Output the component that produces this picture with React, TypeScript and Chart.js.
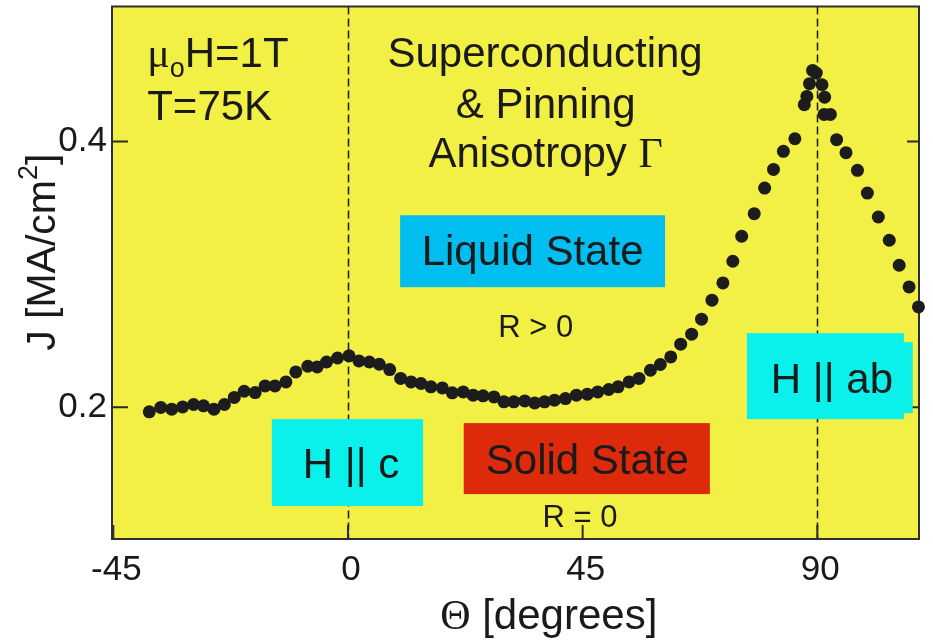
import React, { useEffect, useRef } from "react";
import { Chart, registerables } from "chart.js";

Chart.register(...registerables);

// ---- data ----
const thetaDeg = [
  -38.1, -35.9, -33.8, -31.7, -29.6, -27.7, -25.7, -23.7, -21.8, -19.9,
  -17.8, -15.9, -14.0, -11.9, -10.0, -7.7, -5.9, -4.1, -2.0, 0.2,
  2.1, 4.1, 6.0, 8.0, 10.1, 12.1, 14.0, 15.9, 18.1, 20.0,
  22.1, 24.0, 25.9, 28.0, 29.9, 31.8, 33.9, 35.8, 37.7, 39.6,
  41.7, 43.8, 45.9, 47.9, 50.0, 51.8, 53.9, 55.8, 58.0, 59.9,
  61.9, 63.8, 65.9, 67.8, 69.8, 71.9, 73.8, 75.5, 77.9, 79.9,
  81.6, 83.5, 85.7, 87.5, 88.0, 88.5, 89.1, 89.8, 90.9, 91.4,
  91.3, 92.5, 93.7, 95.5, 97.7, 99.6, 101.7, 103.8, 105.7, 107.6, 109.4,
];

const jcValues = [
  0.1965, 0.1998, 0.1985, 0.2002, 0.202, 0.201, 0.1985, 0.202, 0.2073, 0.212,
  0.211, 0.216, 0.216, 0.219, 0.2265, 0.2308, 0.2303, 0.234, 0.237, 0.2386,
  0.2348, 0.234, 0.2323, 0.2283, 0.2216, 0.219, 0.2178, 0.2153, 0.2145, 0.2108,
  0.2115, 0.209, 0.2085, 0.2077, 0.204, 0.204, 0.2047, 0.2032, 0.204, 0.2053,
  0.2065, 0.209, 0.2098, 0.2115, 0.2133, 0.2153, 0.219, 0.2216, 0.2278, 0.2321,
  0.2378, 0.2474, 0.2549, 0.2662, 0.2805, 0.2935, 0.3098, 0.3286, 0.3456, 0.3649,
  0.3789, 0.3925, 0.402, 0.4276, 0.4338, 0.4434, 0.4534, 0.4514, 0.4426, 0.4333,
  0.4203, 0.4203, 0.4013, 0.3915, 0.3782, 0.3611, 0.3431, 0.3256, 0.3068, 0.2905, 0.2754,
];

const xTickValues = [-45, 0, 45, 90];
const yTickValues = [0.2, 0.4];
const guideAngles = [0, 90];

const X_MIN = -45.25;
const X_MAX = 109.5;
const Y_MIN = 0.1008;
const Y_MAX = 0.5015;

const SANS = '"Liberation Sans", Arial, Helvetica, sans-serif';
const SERIF = '"Liberation Serif", "Times New Roman", serif';
const INK = "#1a1a1a";
const YELLOW = "#F2EF45";

// annotation boxes, in data coordinates
const stateBoxes = [
  { x0: 10.0, x1: 60.8, y0: 0.2903, y1: 0.3444, color: "#00BEF0" },
  { x0: -14.6, x1: 14.4, y0: 0.1256, y1: 0.191, color: "#0AF0EA" },
  { x0: 22.2, x1: 69.4, y0: 0.1346, y1: 0.188, color: "#DC2A0A" },
  { x0: 76.5, x1: 106.6, y0: 0.191, y1: 0.2557, color: "#0AF0EA" },
  { x0: 106.5, x1: 108.3, y0: 0.1955, y1: 0.2489, color: "#0AF0EA" },
];

type Run = { t: string; f: string; s: number; dy?: number };
type Note = { x: number; y: number; align: "left" | "center"; runs: Run[] };

const notes: Note[] = [
  { x: -38.5, y: 0.4556, align: "left", runs: [ { t: "\u03bc", f: SERIF, s: 42 }, { t: "o", f: SANS, s: 27, dy: 10 }, { t: "H=1T", f: SANS, s: 42 } ] },
  { x: -38.5, y: 0.4163, align: "left", runs: [{ t: "T=75K", f: SANS, s: 42 }] },
  { x: 37.8, y: 0.4556, align: "center", runs: [{ t: "Superconducting", f: SANS, s: 42 }] },
  { x: 37.9, y: 0.4173, align: "center", runs: [{ t: "& Pinning", f: SANS, s: 42 }] },
  { x: 37.9, y: 0.3805, align: "center", runs: [ { t: "Anisotropy ", f: SANS, s: 42 }, { t: "\u0393", f: SERIF, s: 42 } ] },
  { x: 35.4, y: 0.3068, align: "center", runs: [{ t: "Liquid State", f: SANS, s: 42 }] },
  { x: 36.0, y: 0.2527, align: "center", runs: [{ t: "R > 0", f: SANS, s: 31 }] },
  { x: 0.6, y: 0.1467, align: "center", runs: [{ t: "H || c", f: SANS, s: 42 }] },
  { x: 45.9, y: 0.1497, align: "center", runs: [{ t: "Solid State", f: SANS, s: 42 }] },
  { x: 44.5, y: 0.1098, align: "center", runs: [{ t: "R = 0", f: SANS, s: 31 }] },
  { x: 92.8, y: 0.2108, align: "center", runs: [{ t: "H || ab", f: SANS, s: 42 }] },
];

const xTitleRuns: Run[] = [ { t: "\u0398", f: SERIF, s: 42 }, { t: " [degrees]", f: SANS, s: 42 } ];
const yTitleRuns: Run[] = [ { t: "J [MA/cm", f: SANS, s: 41 }, { t: "2", f: SANS, s: 27, dy: -18 }, { t: "]", f: SANS, s: 41 } ];

function drawRuns(ctx: CanvasRenderingContext2D, runs: Run[], x: number, y: number, align: string) {
  let total = 0;
  const widths = runs.map((r) => {
    ctx.font = `${r.s}px ${r.f}`;
    const w = ctx.measureText(r.t).width;
    total += w;
    return w;
  });
  let cx = align === "center" ? x - total / 2 : x;
  ctx.textAlign = "left";
  ctx.textBaseline = "alphabetic";
  runs.forEach((r, i) => {
    ctx.font = `${r.s}px ${r.f}`;
    ctx.fillText(r.t, cx, y + (r.dy || 0));
    cx += widths[i];
  });
}

const decorPlugin = {
  id: "decor",
  beforeDatasetsDraw(chart: any) {
    const { ctx, chartArea } = chart;
    const { left, right, top, bottom } = chartArea;
    const xs = chart.scales.x;
    const ys = chart.scales.y;
    ctx.save();
    ctx.fillStyle = YELLOW;
    ctx.fillRect(left, top, right - left, bottom - top);

    // dashed guides
    ctx.strokeStyle = INK;
    ctx.lineWidth = 1.5;
    ctx.setLineDash([8, 4]);
    guideAngles.forEach((a) => {
      const px = Math.round(xs.getPixelForValue(a)) + 0.5;
      ctx.beginPath();
      ctx.moveTo(px, top);
      ctx.lineTo(px, bottom);
      ctx.stroke();
    });
    ctx.setLineDash([]);

    // inward ticks
    ctx.strokeStyle = "#2a2a2a";
    ctx.lineWidth = 2;
    yTickValues.forEach((v) => {
      const py = ys.getPixelForValue(v);
      ctx.beginPath();
      ctx.moveTo(left, py);
      ctx.lineTo(left + 16, py);
      ctx.moveTo(right, py);
      ctx.lineTo(right - 12, py);
      ctx.stroke();
    });
    xTickValues.forEach((v) => {
      const px = xs.getPixelForValue(v);
      ctx.beginPath();
      ctx.moveTo(px, bottom);
      ctx.lineTo(px, bottom - 14);
      ctx.stroke();
    });

    // annotation boxes
    stateBoxes.forEach((b) => {
      const x0 = xs.getPixelForValue(b.x0);
      const x1 = xs.getPixelForValue(b.x1);
      const y0 = ys.getPixelForValue(b.y0);
      const y1 = ys.getPixelForValue(b.y1);
      ctx.fillStyle = b.color;
      ctx.fillRect(x0, y1, x1 - x0, y0 - y1);
    });

    // frame
    ctx.strokeStyle = "#2e2e2e";
    ctx.lineWidth = 2;
    ctx.strokeRect(left, top, right - left, bottom - top);
    ctx.restore();
  },
  afterDatasetsDraw(chart: any) {
    const { ctx, chartArea } = chart;
    const xs = chart.scales.x;
    const ys = chart.scales.y;
    ctx.save();
    ctx.fillStyle = INK;
    notes.forEach((n) => {
      drawRuns(ctx, n.runs, xs.getPixelForValue(n.x), ys.getPixelForValue(n.y), n.align);
    });
    // axis titles
    drawRuns(ctx, xTitleRuns, xs.getPixelForValue(38.5), chartArea.bottom + 90, "center");
    ctx.translate(chartArea.left - 57, ys.getPixelForValue(0.3166));
    ctx.rotate(-Math.PI / 2);
    drawRuns(ctx, yTitleRuns, 0, 0, "center");
    ctx.restore();
  },
};

function zeroPadding(s: any) {
  s.paddingTop = 0;
  s.paddingBottom = 0;
  s.paddingLeft = 0;
  s.paddingRight = 0;
}

export default function App() {
  const ref = useRef<HTMLCanvasElement | null>(null);

  useEffect(() => {
    document.body.style.margin = "0";
    const canvas = ref.current;
    if (!canvas) return;
    const points = thetaDeg.map((t, i) => ({ x: t, y: jcValues[i] }));
    const chart = new Chart(canvas, {
      type: "scatter",
      data: {
        datasets: [
          {
            data: points,
            pointRadius: 6.5,
            pointHoverRadius: 6.5,
            pointBackgroundColor: "#1c1c1c",
            pointBorderColor: "#1c1c1c",
            pointBorderWidth: 0,
            clip: false,
          } as any,
        ],
      },
      options: {
        animation: false,
        responsive: false,
        devicePixelRatio: 1,
        events: [],
        layout: { padding: { top: 6, right: 14, left: 0, bottom: 0 } },
        plugins: { legend: { display: false }, tooltip: { enabled: false }, title: { display: false } },
        scales: {
          x: {
            type: "linear",
            min: X_MIN,
            max: X_MAX,
            grid: { display: false, drawTicks: false },
            border: { display: false },
            afterBuildTicks: (s: any) => {
              s.ticks = xTickValues.map((v) => ({ value: v }));
            },
            afterFit: (s: any) => {
              s.height = 103;
              zeroPadding(s);
            },
            ticks: {
              autoSkip: false,
              maxRotation: 0,
              padding: 10,
              labelOffset: 3,
              color: INK,
              font: { family: SANS, size: 35 },
              callback: (v: any) => String(v),
            },
          },
          y: {
            type: "linear",
            min: Y_MIN,
            max: Y_MAX,
            grid: { display: false, drawTicks: false },
            border: { display: false },
            afterBuildTicks: (s: any) => {
              s.ticks = yTickValues.map((v) => ({ value: v }));
            },
            afterFit: (s: any) => {
              s.width = 112;
              zeroPadding(s);
            },
            ticks: {
              autoSkip: false,
              padding: 5,
              color: INK,
              font: { family: SANS, size: 35 },
              callback: (v: any) => Number(v).toFixed(1),
            },
          },
        },
      },
      plugins: [decorPlugin],
    });
    return () => chart.destroy();
  }, []);

  return (
    <div style={{ position: "absolute", left: 0, top: 0, width: 933, height: 642, background: "#fff" }}>
      <canvas ref={ref} width={933} height={642} style={{ display: "block", width: 933, height: 642 }} />
    </div>
  );
}
